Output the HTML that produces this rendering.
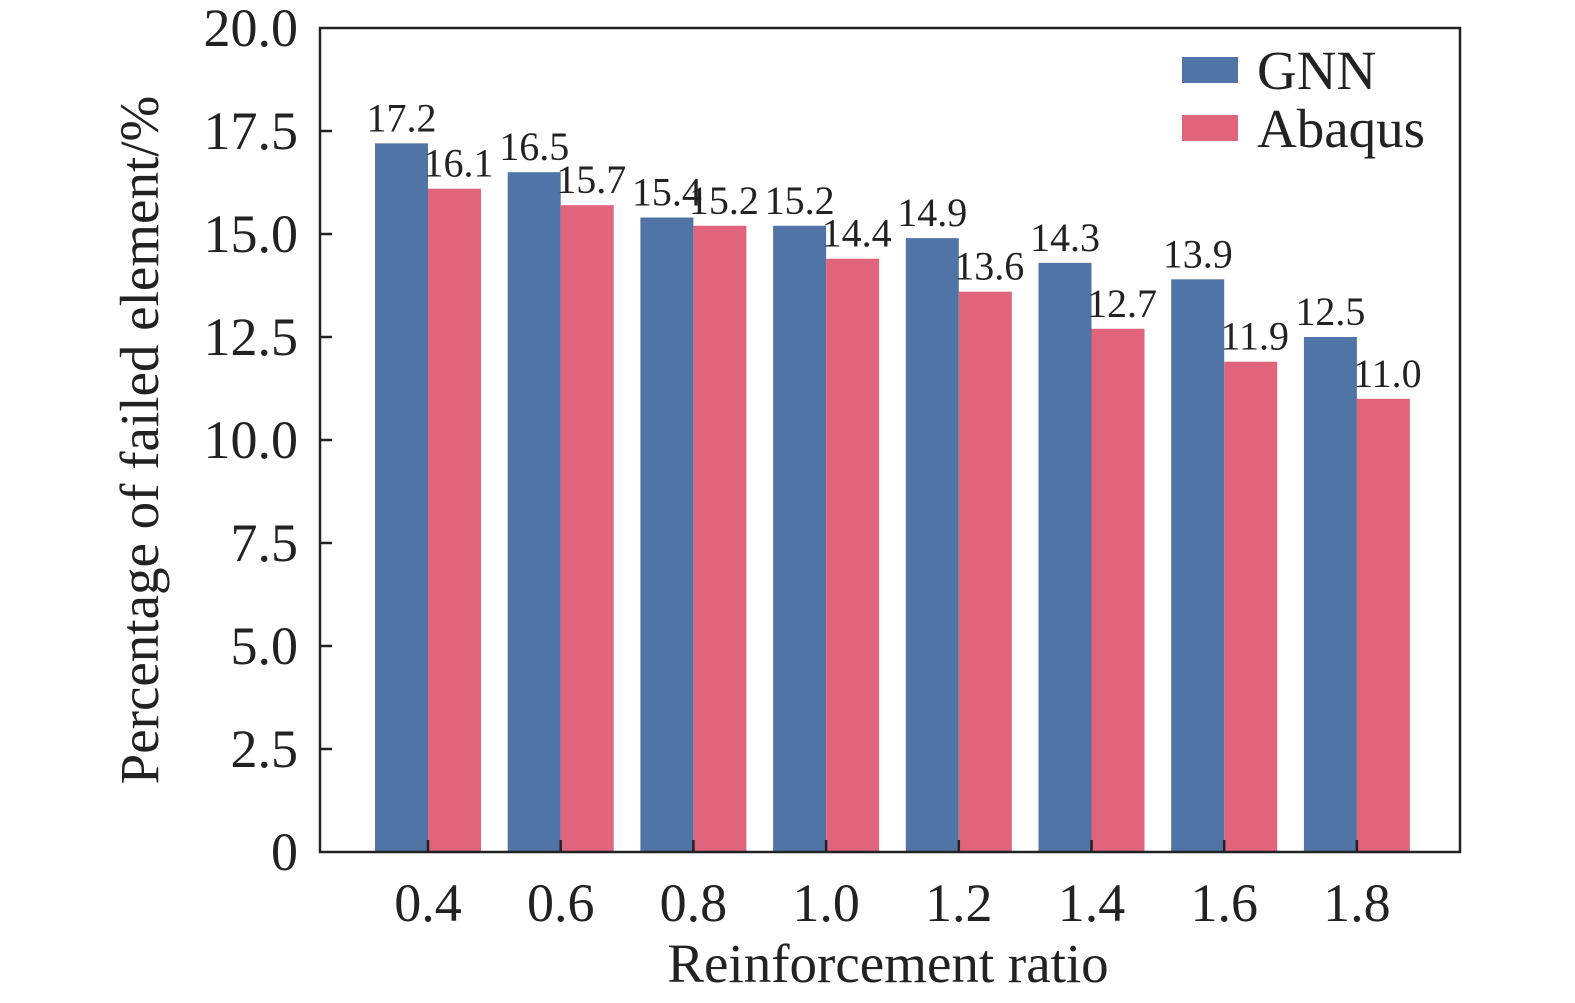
<!DOCTYPE html>
<html><head><meta charset="utf-8"><style>
html,body{margin:0;padding:0;background:#fff;}
svg{display:block;font-family:"Liberation Serif",serif;}
</style></head><body>
<svg id="chart" width="1575" height="1003" viewBox="0 0 1575 1003"></svg>
<script>
const categories = ["0.4","0.6","0.8","1.0","1.2","1.4","1.6","1.8"];
const gnnValues = [17.2,16.5,15.4,15.2,14.9,14.3,13.9,12.5];
const abaqusValues = [16.1,15.7,15.2,14.4,13.6,12.7,11.9,11.0];
const yTicks = [0,2.5,5,7.5,10,12.5,15,17.5,20];
const yTickLabels = ["0","2.5","5.0","7.5","10.0","12.5","15.0","17.5","20.0"];
const seriesNames = ["GNN","Abaqus"];

const NS="http://www.w3.org/2000/svg";
const svg=document.getElementById('chart');
const L=320,R=1460,T=28,B=852;
const firstC=428,band=132.7,bw=53;
function y(v){return B-(v/20)*(B-T);}
function xc(i){return firstC+i*band;}
function mk(tag,attrs,parent){const e=document.createElementNS(NS,tag);for(const k in attrs)e.setAttribute(k,attrs[k]);(parent||svg).appendChild(e);return e;}
const colors=["#5074a5","#e0657c"];
const series=[gnnValues,abaqusValues];

const bars=mk('g',{});


series.forEach((vals,s)=>{
  vals.forEach((v,i)=>{
    const x0=xc(i)+(s===0?-bw:0);
    const r=mk('rect',{x:x0,y:y(v),width:bw,height:B-y(v),fill:colors[s]},bars);
    
    
    const t=mk('text',{x:x0+bw/2+(s===1?4:0),y:y(v)-12,'font-size':40,'text-anchor':'middle',fill:'#222'},bars);
    t.textContent=v.toFixed(1);
    
    
  });
});

const frame=mk('rect',{x:L,y:T,width:R-L,height:B-T,fill:'none',stroke:'#222','stroke-width':2.5});



yTicks.forEach((v,i)=>{
  if(v>0&&v<20){const tk=mk('line',{x1:L,x2:L+12,y1:y(v),y2:y(v),stroke:'#222','stroke-width':2.5});
  
  }
  const t=mk('text',{x:298,y:y(v)+18,'font-size':54,'text-anchor':'end',fill:'#222'});
  t.textContent=yTickLabels[i];
  
  
});
categories.forEach((c,i)=>{
  const tk=mk('line',{x1:xc(i),x2:xc(i),y1:B,y2:B-12,stroke:'#222','stroke-width':2.5});
  
  
  const t=mk('text',{x:xc(i),y:921,'font-size':54,'text-anchor':'middle',fill:'#222'});
  t.textContent=c;
  
  
});
const xt=mk('text',{x:888,y:982,'font-size':55,'text-anchor':'middle',fill:'#222'});
xt.textContent="Reinforcement ratio";


const yt=mk('text',{x:0,y:0,'font-size':55,'text-anchor':'middle',fill:'#222',transform:'translate(158,440) rotate(-90)'});
yt.textContent="Percentage of failed element/%";



seriesNames.forEach((n,s)=>{
  const g=mk('g',{});
  
  
  const yy=57+s*58;
  mk('rect',{x:1182,y:yy,width:56,height:26,fill:colors[s]},g);
  const t=mk('text',{x:1257,y:yy+32,'font-size':55,fill:'#222'},g);
  t.textContent=n;
});
</script>
</body></html>
